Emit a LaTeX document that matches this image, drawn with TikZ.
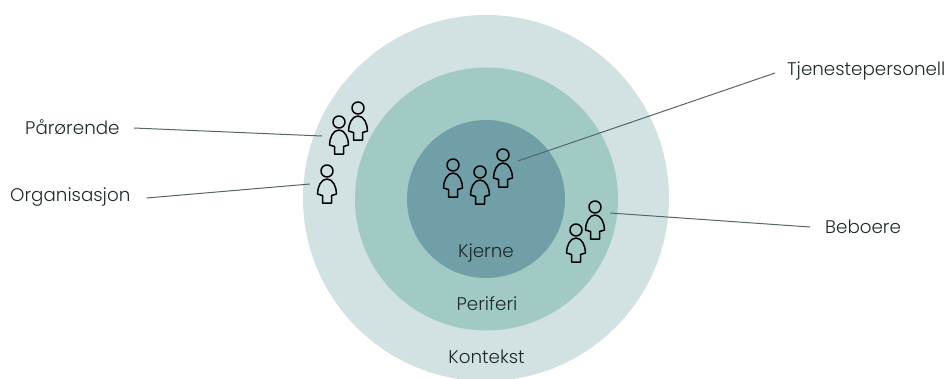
\documentclass[tikz,border=0pt]{standalone}
\usepackage{fontspec}
\setmainfont{Poppins Light}
\definecolor{kontekstcol}{HTML}{D2E1E1}
\definecolor{perifericol}{HTML}{A2CAC5}
\definecolor{kjernecol}{HTML}{709FA8}
\definecolor{textcol}{HTML}{1E2A2A}
\definecolor{linecol}{HTML}{56656A}
\tikzset{
	label/.style={text=textcol,font=\fontsize{18.3}{20}\selectfont,inner sep=0pt},
	leader/.style={draw=linecol,line width=1pt},
	person/.pic={
		\draw[line width=1.5pt,black,line join=round] (0,0) circle (6);
		\draw[line width=1.5pt,black,line join=round] (0,8) .. controls (-6,8) and (-9.5,16) .. (-9.5,23)
			-- (-4.5,24.5) -- (-4.5,32) -- (4.5,32) -- (4.5,24.5) -- (9.5,23)
			.. controls (9.5,16) and (6,8) .. (0,8);
	}
}
\begin{document}
\begin{tikzpicture}[x=1pt,y=-1pt]
	\useasboundingbox (0,0) rectangle (946,378);
	\clip (0,0) rectangle (946,378);
	
	% Draw the three circles
	\fill[kontekstcol] (486,198) circle (183);
	\fill[perifericol] (486.5,199) circle (131.5);
	\fill[kjernecol] (486,199) circle (79);
	
	% Draw the circle names
	\node[label] (kjerne) at (486,253) {Kjerne};
	\node[label] (periferi) at (487,304) {Periferi};
	\node[label] (kontekst) at (486.5,357) {Kontekst};
	
	% Draw the people
	\pic at (358,108) {person};
	\pic at (339,122) {person};
	\pic at (327,171) {person};
	\pic at (453,165) {person};
	\pic at (480,172) {person};
	\pic at (503,155) {person};
	\pic at (595,207) {person};
	\pic at (576,230) {person};
	
	% Draw the outer labels
	\node[label,anchor=west] (paarorende) at (25,127) {Pårørende};
	\node[label,anchor=west] (organisasjon) at (10,197) {Organisasjon};
	\node[label,anchor=west] (tjeneste) at (787,71) {Tjenestepersonell};
	\node[label,anchor=west] (beboere) at (825,227) {Beboere};
	
	% Draw the leader lines
	\coordinate (paarorendeEnd) at (322,136);
	\coordinate (organisasjonEnd) at (310,184);
	\coordinate (tjenesteEnd) at (518,161);
	\coordinate (beboereEnd) at (610,213);
	\draw[leader] (paarorende.east) ++(14,1) -- (paarorendeEnd);
	\draw[leader] (organisasjon.east) ++(16,1) -- (organisasjonEnd);
	\draw[leader] (tjeneste.west) ++(-12,2) -- (tjenesteEnd);
	\draw[leader] (beboere.west) ++(-15,0) -- (beboereEnd);
\end{tikzpicture}
\end{document}
